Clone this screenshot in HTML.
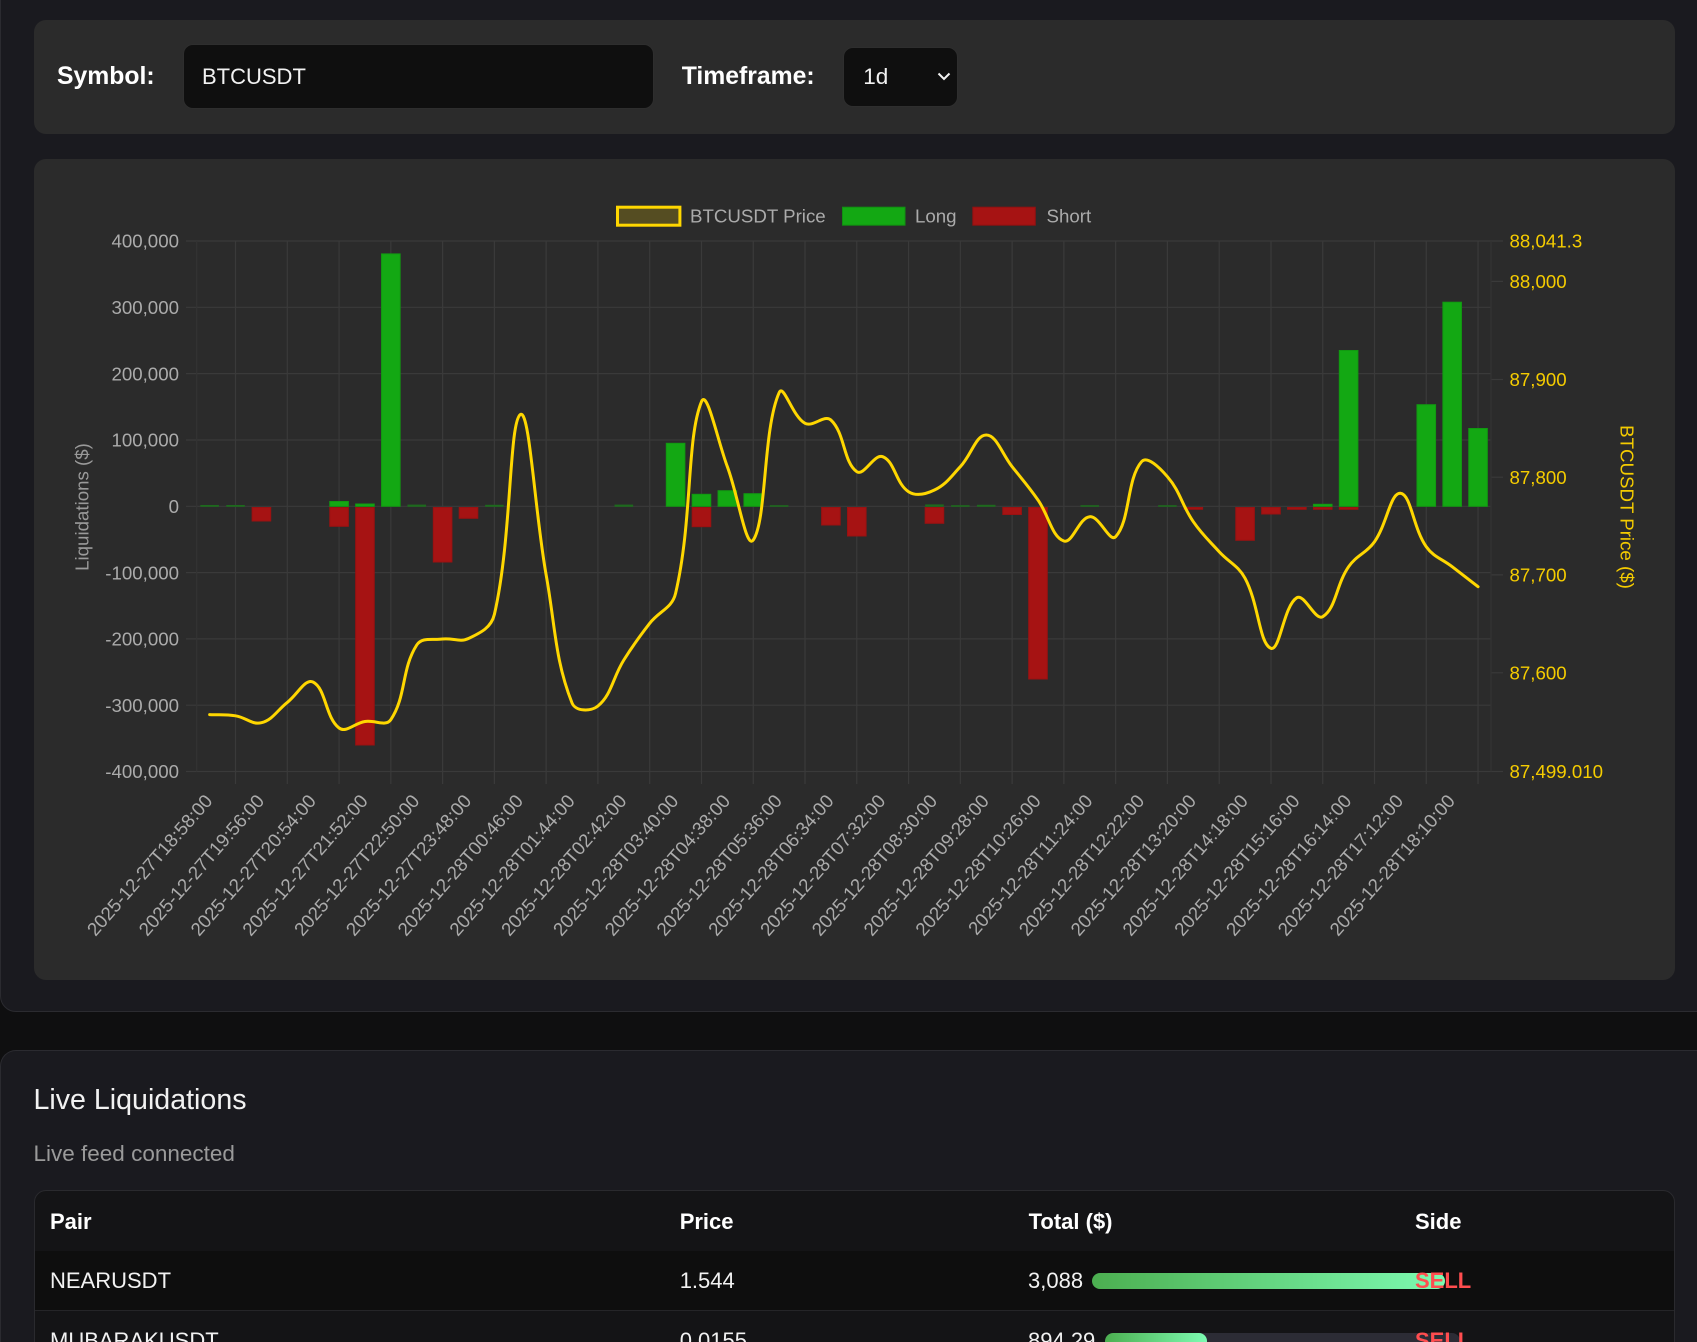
<!DOCTYPE html>
<html>
<head>
<meta charset="utf-8">
<style>
*{box-sizing:border-box;margin:0;padding:0}
html,body{width:1697px;height:1342px;overflow:hidden;background:#0f0f10;font-family:"Liberation Sans",Arial,sans-serif;}
#root{position:relative;width:1697px;height:1342px;overflow:hidden;background:#0f0f10;}
.abs{position:absolute;}
.outer1{left:0;top:-20px;width:1730px;height:1032px;background:#1a1a1f;border:1px solid #2b2b30;border-radius:16px;}
.outer2{left:0;top:1050px;width:1730px;height:292px;background:#1a1a1f;border:1px solid #2b2b30;border-bottom:none;border-radius:16px 16px 0 0;}
.panel{background:#2b2b2b;border-radius:12px;}
.lbl{font-weight:bold;font-size:24.75px;color:#fff;height:40px;line-height:40px;white-space:nowrap;}
.inp{background:#0f0f0f;border:1px solid #2e2e2e;border-radius:10px;}
.t22{font-size:22px;height:30px;line-height:30px;white-space:nowrap;color:#f2f2f2;}
.b22{font-size:22px;font-weight:bold;height:30px;line-height:30px;white-space:nowrap;color:#fff;}
.sell{font-size:22px;font-weight:bold;height:30px;line-height:30px;color:#ff4d4f;}
</style>
</head>
<body>
<div id="root">
<div class="abs outer1"></div>
<div class="abs panel" style="left:33.5px;top:20px;width:1641.5px;height:114px;"></div>
<div class="abs lbl" style="left:57px;top:57.2px;">Symbol:</div>
<div class="abs inp" style="left:182.7px;top:44.3px;width:471px;height:64.7px;"></div>
<div class="abs t22" style="left:202px;top:62.2px;color:#f2f2f2;">BTCUSDT</div>
<div class="abs lbl" style="left:681.7px;top:57.2px;">Timeframe:</div>
<div class="abs inp" style="left:843.3px;top:46.7px;width:114.4px;height:60px;"></div>
<div class="abs t22" style="left:863.3px;top:62.2px;font-size:22.5px;color:#f2f2f2;">1d</div>
<svg class="abs" style="left:0;top:0" width="1697" height="140"><polyline points="938.5,73.5 944,79 949.5,73.5" fill="none" stroke="#f2f2f2" stroke-width="2"/></svg>

<div class="abs panel" style="left:33.5px;top:159px;width:1641.5px;height:821px;"></div>

<svg class="abs" style="left:0;top:0" width="1697" height="1000" font-family="Liberation Sans, Arial, sans-serif">
<g stroke="#3a3a3a" stroke-width="1.2">
<line x1="186" y1="241" x2="1491" y2="241"/>
<line x1="186" y1="307.3" x2="1491" y2="307.3"/>
<line x1="186" y1="373.6" x2="1491" y2="373.6"/>
<line x1="186" y1="440" x2="1491" y2="440"/>
<line x1="186" y1="506.3" x2="1491" y2="506.3"/>
<line x1="186" y1="572.6" x2="1491" y2="572.6"/>
<line x1="186" y1="638.9" x2="1491" y2="638.9"/>
<line x1="186" y1="705.2" x2="1491" y2="705.2"/>
<line x1="186" y1="771.5" x2="1491" y2="771.5"/>
<line x1="1491" y1="281.4" x2="1503" y2="281.4"/>
<line x1="1491" y1="379.5" x2="1503" y2="379.5"/>
<line x1="1491" y1="477.2" x2="1503" y2="477.2"/>
<line x1="1491" y1="574.9" x2="1503" y2="574.9"/>
<line x1="1491" y1="672.8" x2="1503" y2="672.8"/>
<line x1="1491" y1="241" x2="1503" y2="241"/>
<line x1="1491" y1="771.5" x2="1503" y2="771.5"/>
</g>
<g stroke="#3a3a3a" stroke-width="1.2">
<line x1="196.7" y1="241" x2="196.7" y2="771.5" stroke="#333"/>
<line x1="1491" y1="241" x2="1491" y2="771.5" stroke="#333"/>
<line x1="235.53" y1="241" x2="235.53" y2="784"/>
<line x1="287.30" y1="241" x2="287.30" y2="784"/>
<line x1="339.07" y1="241" x2="339.07" y2="784"/>
<line x1="390.84" y1="241" x2="390.84" y2="784"/>
<line x1="442.61" y1="241" x2="442.61" y2="784"/>
<line x1="494.39" y1="241" x2="494.39" y2="784"/>
<line x1="546.16" y1="241" x2="546.16" y2="784"/>
<line x1="597.93" y1="241" x2="597.93" y2="784"/>
<line x1="649.70" y1="241" x2="649.70" y2="784"/>
<line x1="701.47" y1="241" x2="701.47" y2="784"/>
<line x1="753.25" y1="241" x2="753.25" y2="784"/>
<line x1="805.02" y1="241" x2="805.02" y2="784"/>
<line x1="856.79" y1="241" x2="856.79" y2="784"/>
<line x1="908.56" y1="241" x2="908.56" y2="784"/>
<line x1="960.33" y1="241" x2="960.33" y2="784"/>
<line x1="1012.11" y1="241" x2="1012.11" y2="784"/>
<line x1="1063.88" y1="241" x2="1063.88" y2="784"/>
<line x1="1115.65" y1="241" x2="1115.65" y2="784"/>
<line x1="1167.42" y1="241" x2="1167.42" y2="784"/>
<line x1="1219.19" y1="241" x2="1219.19" y2="784"/>
<line x1="1270.97" y1="241" x2="1270.97" y2="784"/>
<line x1="1322.74" y1="241" x2="1322.74" y2="784"/>
<line x1="1374.51" y1="241" x2="1374.51" y2="784"/>
<line x1="1426.28" y1="241" x2="1426.28" y2="784"/>
<line x1="1478.05" y1="241" x2="1478.05" y2="784"/>
</g>

<g fill="#1d6a1d">
<rect x="200.34" y="505" width="18.6" height="1.8"/>
<rect x="226.23" y="505" width="18.6" height="1.8"/>
<rect x="407.43" y="504.6" width="18.6" height="2.2"/>
<rect x="485.09" y="504.8" width="18.6" height="2"/>
<rect x="614.52" y="504.6" width="18.6" height="2.2"/>
<rect x="769.83" y="505.2" width="18.6" height="1.6"/>
<rect x="925.15" y="504.4" width="18.6" height="2.4"/>
<rect x="951.03" y="505.2" width="18.6" height="1.6"/>
<rect x="976.92" y="504.8" width="18.6" height="2"/>
<rect x="1080.46" y="505.2" width="18.6" height="1.6"/>
<rect x="1158.12" y="505.2" width="18.6" height="1.6"/>
</g>
<g fill="#13a813" stroke="#119a11" stroke-width="1">
<rect x="329.77" y="501.5" width="18.6" height="4.8"/>
<rect x="355.66" y="504" width="18.6" height="2.3"/>
<rect x="381.54" y="253.9" width="18.6" height="252.4"/>
<rect x="666.29" y="443.3" width="18.6" height="63"/>
<rect x="692.17" y="494.3" width="18.6" height="12"/>
<rect x="718.06" y="490.7" width="18.6" height="15.6"/>
<rect x="743.95" y="493.7" width="18.6" height="12.6"/>
<rect x="1313.44" y="504.3" width="18.6" height="2"/>
<rect x="1339.32" y="350.5" width="18.6" height="155.8"/>
<rect x="1416.98" y="404.7" width="18.6" height="101.6"/>
<rect x="1442.87" y="302.2" width="18.6" height="204.1"/>
<rect x="1468.75" y="428.5" width="18.6" height="77.8"/>
</g>
<g fill="#a61313" stroke="#9a1111" stroke-width="1">
<rect x="252.11" y="507.5" width="18.6" height="13.5"/>
<rect x="329.77" y="507.5" width="18.6" height="18.8"/>
<rect x="355.66" y="507.5" width="18.6" height="237.5"/>
<rect x="433.31" y="507.5" width="18.6" height="54.5"/>
<rect x="459.20" y="507.5" width="18.6" height="10.8"/>
<rect x="692.17" y="507.5" width="18.6" height="19.2"/>
<rect x="821.60" y="507.5" width="18.6" height="17.5"/>
<rect x="847.49" y="507.5" width="18.6" height="28.5"/>
<rect x="925.15" y="507.5" width="18.6" height="15.8"/>
<rect x="1002.81" y="507.5" width="18.6" height="7"/>
<rect x="1028.69" y="507.5" width="18.6" height="171.5"/>
<rect x="1184.01" y="507.5" width="18.6" height="1.8"/>
<rect x="1235.78" y="507.5" width="18.6" height="32.8"/>
<rect x="1261.67" y="507.5" width="18.6" height="6.5"/>
<rect x="1287.55" y="507.5" width="18.6" height="1.8"/>
<rect x="1313.44" y="507.5" width="18.6" height="1.8"/>
<rect x="1339.32" y="507.5" width="18.6" height="1.8"/>
</g>

<path id="pl" fill="none" stroke="#ffd700" stroke-width="3" stroke-linejoin="round" stroke-linecap="round" d="M209.64,714.6 C219.99,715.08 225.18,714.18 235.53,715.8 S251.06,725.38 261.41,722.7 S276.95,710.52 287.30,702.4 S302.83,676.98 313.18,682.1 S328.72,720.12 339.07,728 S354.61,723.18 364.96,721.5 S380.49,734.9 390.84,719.6 S406.38,661.12 416.73,645 S432.26,640.3 442.61,639 S458.15,643.42 468.50,638.5 S484.04,659.18 494.39,614.4 S509.92,422.48 520.27,414.6 S535.81,517.32 546.16,575 S561.69,676.8 572.04,703 S587.58,714.6 597.93,706 S613.47,676.54 623.82,660 S639.35,636.64 649.70,623.3 S665.24,637.62 675.59,593.3 S691.12,427.02 701.47,401.7 S717.01,439.04 727.36,466.7 S742.90,554.8 753.25,540 S768.78,416.04 779.13,392.7 S794.67,417.84 805.02,423.3 S820.55,410.32 830.90,420 S846.44,464.36 856.79,471.7 S872.33,452.7 882.68,456.7 S898.21,485.04 908.56,491.7 S924.10,495 934.45,490 S949.98,477.7 960.33,466.7 S975.87,435 986.22,435 S1001.76,453.7 1012.11,466.7 S1027.64,485.14 1037.99,500 S1053.53,537.66 1063.88,541 S1079.41,517.56 1089.76,516.7 S1105.30,547.7 1115.65,536.7 S1131.19,473.7 1141.54,461.7 S1157.07,464.7 1167.42,476.7 S1182.96,506.7 1193.31,521.7 S1208.84,540.38 1219.19,551.7 S1234.73,558.98 1245.08,578.3 S1260.62,644.42 1270.97,648.3 S1286.50,604.02 1296.85,597.7 S1312.39,622.9 1322.74,616.7 S1338.27,581.7 1348.62,566.7 S1364.16,556.38 1374.51,541.7 S1390.05,492.3 1400.40,493.3 S1415.93,532.02 1426.28,546.7 S1441.82,558.7 1452.17,566.7 S1467.70,578.7 1478.05,586.7"/>

<g fill="#ababab" font-size="18.7" text-anchor="end">
<text x="179" y="247.7">400,000</text>
<text x="179" y="314">300,000</text>
<text x="179" y="380.3">200,000</text>
<text x="179" y="446.7">100,000</text>
<text x="179" y="513">0</text>
<text x="179" y="579.3">-100,000</text>
<text x="179" y="645.6">-200,000</text>
<text x="179" y="711.9">-300,000</text>
<text x="179" y="778.2">-400,000</text>
</g>
<g fill="#f5cc00" font-size="18.7" text-anchor="start">
<text x="1509.5" y="247.7">88,041.3</text>
<text x="1509.5" y="288.1">88,000</text>
<text x="1509.5" y="386.2">87,900</text>
<text x="1509.5" y="483.9">87,800</text>
<text x="1509.5" y="581.6">87,700</text>
<text x="1509.5" y="679.5">87,600</text>
<text x="1509.5" y="778.2">87,499.010</text>
</g>
<text transform="translate(88.7,507) rotate(-90)" text-anchor="middle" font-size="18.7" fill="#9a9a9a">Liquidations ($)</text>
<text transform="translate(1620.3,507) rotate(90)" text-anchor="middle" font-size="18.7" fill="#f5cc00">BTCUSDT Price ($)</text>

<rect x="617.5" y="207.2" width="62.4" height="18" fill="rgba(255,215,0,0.2)" stroke="#ffd700" stroke-width="3"/>
<text x="690" y="222.7" font-size="18.7" fill="#ababab">BTCUSDT Price</text>
<rect x="842.5" y="207.2" width="62.5" height="18" fill="#13a813" stroke="#119011" stroke-width="1"/>
<text x="915" y="222.7" font-size="18.7" fill="#ababab">Long</text>
<rect x="972.8" y="207.2" width="62.5" height="18" fill="#a61313" stroke="#901111" stroke-width="1"/>
<text x="1046.5" y="222.7" font-size="18.7" fill="#ababab">Short</text>

<g fill="#ababab" font-size="18.7" text-anchor="end">
<text transform="translate(213.4,801.5) rotate(-49)">2025-12-27T18:58:00</text>
<text transform="translate(265.2,801.5) rotate(-49)">2025-12-27T19:56:00</text>
<text transform="translate(317.0,801.5) rotate(-49)">2025-12-27T20:54:00</text>
<text transform="translate(368.8,801.5) rotate(-49)">2025-12-27T21:52:00</text>
<text transform="translate(420.5,801.5) rotate(-49)">2025-12-27T22:50:00</text>
<text transform="translate(472.3,801.5) rotate(-49)">2025-12-27T23:48:00</text>
<text transform="translate(524.1,801.5) rotate(-49)">2025-12-28T00:46:00</text>
<text transform="translate(575.8,801.5) rotate(-49)">2025-12-28T01:44:00</text>
<text transform="translate(627.6,801.5) rotate(-49)">2025-12-28T02:42:00</text>
<text transform="translate(679.4,801.5) rotate(-49)">2025-12-28T03:40:00</text>
<text transform="translate(731.2,801.5) rotate(-49)">2025-12-28T04:38:00</text>
<text transform="translate(782.9,801.5) rotate(-49)">2025-12-28T05:36:00</text>
<text transform="translate(834.7,801.5) rotate(-49)">2025-12-28T06:34:00</text>
<text transform="translate(886.5,801.5) rotate(-49)">2025-12-28T07:32:00</text>
<text transform="translate(938.2,801.5) rotate(-49)">2025-12-28T08:30:00</text>
<text transform="translate(990.0,801.5) rotate(-49)">2025-12-28T09:28:00</text>
<text transform="translate(1041.8,801.5) rotate(-49)">2025-12-28T10:26:00</text>
<text transform="translate(1093.6,801.5) rotate(-49)">2025-12-28T11:24:00</text>
<text transform="translate(1145.3,801.5) rotate(-49)">2025-12-28T12:22:00</text>
<text transform="translate(1197.1,801.5) rotate(-49)">2025-12-28T13:20:00</text>
<text transform="translate(1248.9,801.5) rotate(-49)">2025-12-28T14:18:00</text>
<text transform="translate(1300.7,801.5) rotate(-49)">2025-12-28T15:16:00</text>
<text transform="translate(1352.4,801.5) rotate(-49)">2025-12-28T16:14:00</text>
<text transform="translate(1404.2,801.5) rotate(-49)">2025-12-28T17:12:00</text>
<text transform="translate(1456.0,801.5) rotate(-49)">2025-12-28T18:10:00</text>
</g>
</svg>

<div class="abs outer2"></div>
<div class="abs" style="left:33.5px;top:1080px;height:40px;line-height:40px;font-size:28.6px;color:#f2f2f2;white-space:nowrap;">Live Liquidations</div>
<div class="abs" style="left:33.5px;top:1139.3px;height:30px;line-height:30px;font-size:22.5px;color:#9a9a9a;white-space:nowrap;">Live feed connected</div>

<div class="abs" style="left:33.5px;top:1190px;width:1641px;height:200px;border:1px solid #2a2a2e;border-radius:12px;overflow:hidden;background:#141416;">
  <div class="abs" style="left:0;top:60px;width:100%;height:60px;background:#0e0e0e;border-bottom:1px solid #252528;"></div>
</div>
<div class="abs b22" style="left:50px;top:1207px;">Pair</div>
<div class="abs b22" style="left:679.7px;top:1207px;">Price</div>
<div class="abs b22" style="left:1028.6px;top:1207px;">Total ($)</div>
<div class="abs b22" style="left:1415px;top:1207px;">Side</div>

<div class="abs t22" style="left:50px;top:1266px;">NEARUSDT</div>
<div class="abs t22" style="left:679.7px;top:1266px;">1.544</div>
<div class="abs t22" style="left:1028px;top:1266px;">3,088</div>
<div class="abs" style="left:1092px;top:1273px;width:353px;height:16px;border-radius:8px;background:linear-gradient(90deg,#4caf50,#7dfbb2);"></div>
<div class="abs sell" style="left:1415px;top:1266px;">SELL</div>

<div class="abs t22" style="left:50px;top:1326px;">MUBARAKUSDT</div>
<div class="abs t22" style="left:679.7px;top:1326px;">0.0155</div>
<div class="abs t22" style="left:1028px;top:1326px;">894.29</div>
<div class="abs" style="left:1105px;top:1333px;width:355px;height:16px;border-radius:8px;background:#2c2c35;overflow:hidden;">
  <div style="width:102px;height:16px;border-radius:8px;background:linear-gradient(90deg,#4caf50,#7dfbb2);"></div>
</div>
<div class="abs sell" style="left:1415px;top:1326px;">SELL</div>
</div>
<script>
(function(){
var ys=[714.6,715.8,722.7,702.4,682.1,728,721.5,719.6,645,639,638.5,614.4,414.6,575,703,706,660,623.3,593.3,401.7,466.7,540,392.7,423.3,420,471.7,456.7,491.7,490,466.7,435,466.7,500,541,516.7,536.7,461.7,476.7,521.7,551.7,578.3,648.3,597.7,616.7,566.7,541.7,493.3,546.7,566.7,586.7];
var pts=[],i,n=ys.length,t=0.4;
for(i=0;i<n;i++)pts.push({x:209.64+25.886*i,y:ys[i]});
function cl(v,a,b){return Math.max(a,Math.min(b,v));}
for(i=0;i<n;i++){
 var p=pts[i],pr=pts[Math.max(i-1,0)],nx=pts[Math.min(i+1,n-1)];
 var d01=Math.sqrt((p.x-pr.x)*(p.x-pr.x)+(p.y-pr.y)*(p.y-pr.y));
 var d12=Math.sqrt((nx.x-p.x)*(nx.x-p.x)+(nx.y-p.y)*(nx.y-p.y));
 var s01=d01/(d01+d12),s12=d12/(d01+d12);
 if(isNaN(s01))s01=0; if(isNaN(s12))s12=0;
 var fa=t*s01,fb=t*s12;
 p.a1=cl(p.x-fa*(nx.x-pr.x),196.7,1491); p.b1=cl(p.y-fa*(nx.y-pr.y),241,771.5);
 p.a2=cl(p.x+fb*(nx.x-pr.x),196.7,1491); p.b2=cl(p.y+fb*(nx.y-pr.y),241,771.5);
}
var d='M'+pts[0].x.toFixed(2)+','+pts[0].y.toFixed(2);
for(i=1;i<n;i++){var a=pts[i-1],b=pts[i];
 d+=' C'+a.a2.toFixed(2)+','+a.b2.toFixed(2)+' '+b.a1.toFixed(2)+','+b.b1.toFixed(2)+' '+b.x.toFixed(2)+','+b.y.toFixed(2);}
document.getElementById('pl').setAttribute('d',d);
})();
</script>
</body>
</html>
